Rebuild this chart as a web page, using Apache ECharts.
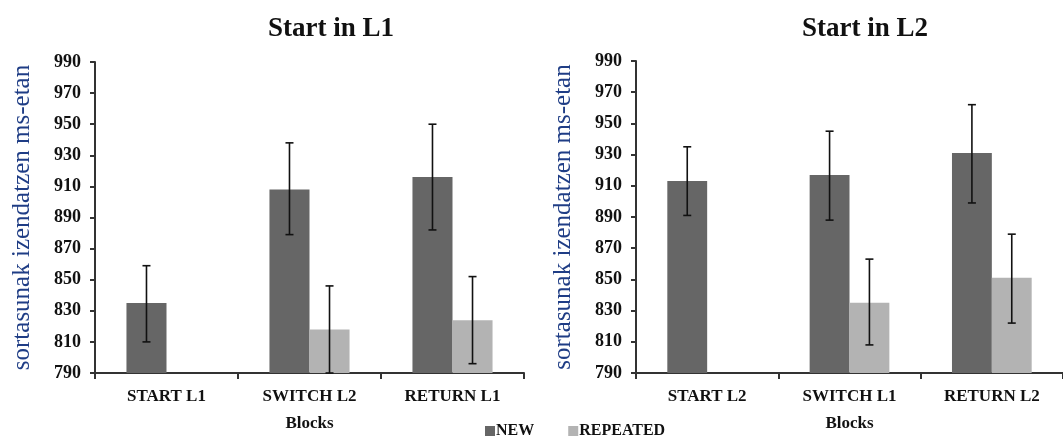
<!DOCTYPE html>
<html>
<head>
<meta charset="utf-8">
<script src="https://cdn.jsdelivr.net/npm/echarts@6/dist/echarts.min.js"></script>
<style>
  html, body { margin: 0; padding: 0; background: #fff; }
  #chart { width: 1063px; height: 436px; }
</style>
</head>
<body>
<div id="chart"></div>
<script>
// values (ms)
var catsL1 = ['START L1', 'SWITCH L2', 'RETURN L1'];
var catsL2 = ['START L2', 'SWITCH L1', 'RETURN L2'];

var newL1 = [835, 908, 916];
var repL1 = [null, 818, 824];
var newL1Lo = [810, 879, 882];
var newL1Hi = [859, 938, 950];
var repL1Lo = [null, 790, 796];
var repL1Hi = [null, 846, 852];

var newL2 = [913, 917, 931];
var repL2 = [null, 835, 851];
var newL2Lo = [891, 888, 899];
var newL2Hi = [935, 945, 962];
var repL2Lo = [null, 808, 822];
var repL2Hi = [null, 863, 879];

var yTicks = [790, 810, 830, 850, 870, 890, 910, 930, 950, 970, 990];

var serif = '"Liberation Serif", "Times New Roman", serif';
var gapPct = 44;

function errData(lo, hi) {
    var out = [];
    for (var i = 0; i < lo.length; i++) {
        if (lo[i] == null) continue;
        out.push([i, lo[i], hi[i]]);
    }
    return out;
}

// side: -1 = first bar of the pair, +1 = second bar
function errRender(side) {
    return function (params, api) {
        var x = api.value(0);
        var lo = api.coord([x, api.value(1)]);
        var hi = api.coord([x, api.value(2)]);
        var band = api.size([1, 0])[0];
        var bw = band * (1 - gapPct / 100) / 2;
        var cx = lo[0] + side * bw / 2;
        var cap = 4;
        var st = { stroke: '#111', lineWidth: 1.6 };
        return {
            type: 'group',
            children: [
                { type: 'line', shape: { x1: cx, y1: lo[1], x2: cx, y2: hi[1] }, style: st },
                { type: 'line', shape: { x1: cx - cap, y1: lo[1], x2: cx + cap, y2: lo[1] }, style: st },
                { type: 'line', shape: { x1: cx - cap, y1: hi[1], x2: cx + cap, y2: hi[1] }, style: st }
            ]
        };
    };
}

function xAxisOf(idx, cats) {
    return {
        type: 'category', gridIndex: idx, data: cats,
        name: 'Blocks', nameLocation: 'middle', nameGap: 42,
        nameTextStyle: { fontFamily: serif, fontWeight: 'bold', fontSize: 17, color: '#111' },
        axisLine: { lineStyle: { color: '#333', width: 2 } },
        axisTick: { show: true, length: 6, lineStyle: { color: '#333', width: 2 } },
        axisLabel: { fontFamily: serif, fontWeight: 'bold', fontSize: 17, color: '#111', margin: 15 }
    };
}

function yAxisOf(idx) {
    return {
        type: 'value', gridIndex: idx, min: 790, max: 990, interval: 20,
        name: 'sortasunak izendatzen ms-etan', nameLocation: 'middle', nameGap: 60,
        nameTextStyle: { fontFamily: serif, fontSize: 25, color: '#1f3d85' },
        axisLine: { show: true, lineStyle: { color: '#333', width: 2 } },
        axisTick: { show: true, length: 5, lineStyle: { color: '#333', width: 2 } },
        splitLine: { show: false },
        axisLabel: {
            fontFamily: serif, fontWeight: 'bold', fontSize: 18, color: '#111', margin: 14,
            formatter: function (v) { return yTicks.indexOf(v) >= 0 ? String(v) : ''; }
        }
    };
}

function barSeries(name, idx, data, color) {
    return {
        name: name, type: 'bar', xAxisIndex: idx, yAxisIndex: idx, data: data,
        barGap: '0%', barCategoryGap: gapPct + '%',
        itemStyle: { color: color },
        emphasis: { disabled: true }
    };
}

function errSeries(idx, lo, hi, side) {
    return {
        type: 'custom', xAxisIndex: idx, yAxisIndex: idx,
        data: errData(lo, hi), renderItem: errRender(side), z: 5, silent: true
    };
}

var option = {
    backgroundColor: '#fff',
    animation: false,
    title: [
        { text: 'Start in L1', left: 326, top: 11, textAlign: 'center',
          textStyle: { fontFamily: serif, fontWeight: 'bold', fontSize: 27, color: '#111' } },
        { text: 'Start in L2', left: 860, top: 11, textAlign: 'center',
          textStyle: { fontFamily: serif, fontWeight: 'bold', fontSize: 27, color: '#111' } }
    ],
    legend: {
        data: ['NEW', 'REPEATED'],
        left: 485, top: 423, padding: 0,
        icon: 'rect', itemWidth: 10, itemHeight: 10, itemGap: 34,
        textStyle: { fontFamily: serif, fontWeight: 'bold', fontSize: 16, lineHeight: 14,
                     color: '#111', padding: [0, 0, 0, -4] }
    },
    grid: [
        { left: 95, top: 62, width: 429, height: 311, outerBoundsMode: 'none' },
        { left: 636, top: 61, width: 427, height: 312, outerBoundsMode: 'none' }
    ],
    xAxis: [xAxisOf(0, catsL1), xAxisOf(1, catsL2)],
    yAxis: [yAxisOf(0), yAxisOf(1)],
    series: [
        barSeries('NEW', 0, newL1, '#666666'),
        barSeries('REPEATED', 0, repL1, '#b3b3b3'),
        barSeries('NEW', 1, newL2, '#666666'),
        barSeries('REPEATED', 1, repL2, '#b3b3b3'),
        errSeries(0, newL1Lo, newL1Hi, -1),
        errSeries(0, repL1Lo, repL1Hi, 1),
        errSeries(1, newL2Lo, newL2Hi, -1),
        errSeries(1, repL2Lo, repL2Hi, 1)
    ]
};

var chart = echarts.init(document.getElementById('chart'));
chart.setOption(option);
</script>
</body>
</html>
